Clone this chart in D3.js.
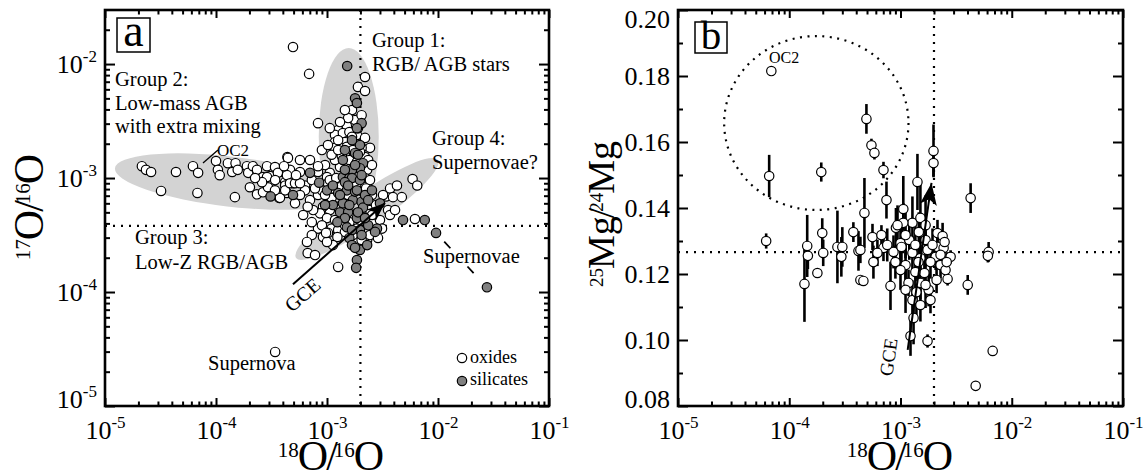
<!DOCTYPE html>
<html>
<head>
<meta charset="utf-8">
<script src="https://cdn.jsdelivr.net/npm/d3@7"></script>
<style>
  body { margin: 0; background: #fff; }
  text { font-family: "Liberation Serif", "Times New Roman", serif; fill: #000; }
</style>
</head>
<body>
<script>
'use strict'

// ---- data ----

// axis limits
const xDomain = [1e-5, 1e-1]
const yDomainA = [1e-5, 2.98e-2]
const yDomainB = [0.08, 0.20]

// solar reference values (dotted lines)
const solar18 = 2.0e-3
const solar17 = 3.8e-4
const solarMg = 0.1266

// panel a: [18O/16O, 17O/16O]
const oxides = [
  [2.15e-5,1.27e-3],[2.34e-5,1.18e-3],[2.6e-5,1.13e-3],[3.2e-5,7.7e-4],[4.36e-5,1.13e-3],
  [6.2e-5,1.27e-3],[6.9e-5,1.11e-3],[6.8e-5,7.4e-4],[1.0e-4,1.41e-3],[1.04e-4,1.18e-3],
  [1.08e-4,1.06e-3],[1.28e-4,1.35e-3],[1.4e-4,1.13e-3],[1.5e-4,1.35e-3],[1.57e-4,1.18e-3],
  [1.48e-4,6.8e-4],[1.9e-4,1.27e-3],[1.95e-4,1.11e-3],[2.15e-4,1.27e-3],[2.34e-4,1.18e-3],
  [2.34e-4,7.2e-4],[2.65e-4,7.5e-4],[2.65e-4,1.02e-3],[2.88e-4,1.27e-3],[3.07e-4,1.04e-3],
  [3.4e-4,1.25e-3],[3.7e-4,6.7e-4],[4.0e-4,1.13e-3],[4.4e-4,1.53e-3],[4.2e-4,9.2e-4],
  [4.2e-4,8.6e-4],[4.36e-4,7.4e-4],[2.88e-4,1.02e-3],[3.61e-4,1.11e-3],[2.94e-4,8.3e-4],
  [3.77e-4,6.7e-4],[3.4e-4,7.8e-4],[4.2e-4,7.8e-4],
  [4.94e-4,1.41e-2],[6.9e-4,8.2e-3],[2.2e-3,7.7e-3],[1.9e-3,6.3e-3],[2.2e-3,5.8e-3],
  [1.68e-3,3.95e-3],[8.3e-4,3.03e-3],[1.98e-3,3.35e-3],
  [1.51e-3,2.85e-3],[1.26e-3,2.64e-3],[1.18e-3,2.39e-3],[1.39e-3,2.48e-3],[1.59e-3,2.53e-3],
  [1.86e-3,2.39e-3],[2.2e-3,2.25e-3],[1.18e-3,2.07e-3],[1.45e-3,2.07e-3],[1.68e-3,2.03e-3],
  [2.44e-3,1.84e-3],[1.18e-3,1.84e-3],[1.36e-3,1.84e-3],[1.45e-3,1.66e-3],[2.2e-3,1.53e-3],
  [1.59e-3,1.44e-3],[1.86e-3,1.38e-3],[2.3e-3,1.18e-3],[1.31e-3,1.25e-3],[1.06e-3,1.11e-3],
  [9.6e-4,1.3e-3],[1.9e-3,1.02e-3],[2.2e-3,1.0e-3],[2.44e-3,9.6e-4],[1.18e-3,1.44e-3],
  [1.36e-3,1.56e-3],[2.05e-3,1.84e-3],[1.68e-3,2.3e-3],[1.9e-3,2.74e-3],
  [4.45e-4,1.5e-3],[4.64e-4,1.18e-3],[5.71e-4,1.13e-3],[1.0e-3,1.02e-3],[4.36e-4,1.06e-3],
  [4.94e-4,9.0e-4],[6.34e-4,8.6e-4],[4.64e-4,9.0e-4],[5.15e-4,9.0e-4],[1.02e-3,9.0e-4],
  [6.34e-4,7.8e-4],[7.03e-4,6.4e-4],[8.3e-4,7.1e-4],[1.1e-3,6.7e-4],[1.24e-3,5.6e-4],
  [1.06e-3,5.24e-4],[9.2e-4,5.6e-4],[8.65e-4,4.9e-4],[7.5e-4,5.24e-4],[6.7e-4,5.6e-4],
  [1.86e-3,4.9e-4],[2.44e-3,5.24e-4],[1.0e-3,4.45e-4],[1.18e-3,4.28e-4],[1.39e-3,4.28e-4],
  [1.68e-3,4.45e-4],[1.98e-3,4.28e-4],[2.3e-3,4.45e-4],[1.1e-3,3.6e-4],[1.26e-3,3.5e-4],
  [1.86e-3,3.6e-4],[2.6e-3,4.0e-4],[3.55e-3,5.24e-4],[3.0e-3,4.28e-4],[9.0e-4,7.8e-4],
  [1.13e-3,8.1e-4],[7.3e-4,9.6e-4],[8.3e-4,1.13e-3],[5.71e-4,9.0e-4],[1.36e-3,4.74e-4],
  [1.59e-3,4.1e-4],[8.3e-4,3.6e-4],[7.3e-4,3.16e-4],[1.45e-3,3.37e-4],[2.55e-3,4.74e-4],
  [3.4e-3,6.9e-4],[3.7e-3,8.1e-4],
  [4.27e-3,8.6e-4],[5.9e-3,9.8e-4],[6.5e-3,8.6e-4],[3.93e-3,6.8e-4],[4.72e-3,6.8e-4],[6.2e-3,4.37e-4],
  [6.6e-4,2.75e-4],[6.7e-4,2.2e-4],[7.8e-4,2.11e-4],[9.2e-4,3.04e-4],[1.02e-3,3.3e-4],
  [1.24e-3,3.04e-4],[2.3e-3,2.86e-4],[1.26e-3,1.66e-4],[1.13e-3,2.58e-4],[1.0e-3,2.75e-4],
  [3.41e-4,2.98e-5],
  [9.0e-4,1.76e-3],[1.02e-3,1.95e-3],[1.1e-3,1.6e-3],[1.26e-3,1.76e-3],[1.51e-3,1.88e-3],
  [1.71e-3,1.76e-3],[1.98e-3,1.7e-3],[2.35e-3,1.44e-3],[2.54e-3,1.3e-3],
  [1.06e-3,9.6e-4],[1.21e-3,1.0e-3],[1.36e-3,8.5e-4],[1.55e-3,7.1e-4],[1.83e-3,8.6e-4],
  [2.25e-3,8.1e-4],[2.54e-3,7.1e-4],[2.76e-3,5.8e-4],
  [9.6e-4,7.1e-4],[7.8e-4,8.1e-4],[5.71e-4,7.1e-4],[5.15e-4,6.0e-4],[6.1e-4,4.74e-4],
  [7.3e-4,4.1e-4],[9.0e-4,3.85e-4],[9.8e-4,3.3e-4],
  [1.45e-3,3.85e-4],[1.71e-3,3.16e-4],[2.05e-3,2.86e-4],[2.44e-3,3.16e-4],[2.88e-3,2.98e-4],
  [3.13e-3,3.6e-4],[3.69e-3,4.74e-4],[4.1e-3,5.24e-4],[3.2e-3,7.1e-4],
  [1.79e-3,3.23e-3],[1.55e-3,3.36e-3],[2.05e-3,3.56e-3],[1.31e-3,3.1e-3],[1.45e-3,3.95e-3],
  [1.26e-3,2.15e-3],[1.06e-3,2.74e-3],
  [7.03e-4,1.44e-3],[8.3e-4,1.27e-3],[5.71e-4,1.44e-3],[5.26e-4,1.06e-3],[4.1e-4,1.27e-3],
  [3.41e-4,9.6e-4],[2.6e-4,9.2e-4],[2.25e-4,1.0e-3],[2.02e-4,8.3e-4]
]

const silicates = [
  [3.1e-4,6.9e-4],[1.52e-3,9.6e-3],[1.79e-3,5.0e-3],[1.86e-3,4.55e-3],[2.05e-3,3.03e-3],
  [1.98e-3,1.95e-3],[1.79e-3,1.66e-3],[1.9e-3,1.6e-3],[1.39e-3,1.44e-3],[2.11e-3,1.35e-3],
  [1.98e-3,1.22e-3],[1.68e-3,1.18e-3],[1.39e-3,1.02e-3],[1.59e-3,1.0e-3],[7.03e-4,1.11e-3],
  [8.5e-4,9.1e-4],[4.94e-4,7.1e-4],[1.0e-3,7.8e-4],[1.26e-3,7.4e-4],[1.51e-3,7.8e-4],
  [1.68e-3,1.0e-3],[1.98e-3,9.6e-4],[1.45e-3,9.2e-4],[1.71e-3,6.4e-4],[2.05e-3,6.2e-4],
  [1.39e-3,6.0e-4],[1.31e-3,5.0e-4],[1.55e-3,5.0e-4],[2.11e-3,5.5e-4],[1.51e-3,3.7e-4],
  [2.82e-3,3.6e-4],[3.0e-3,6.0e-4],[4.84e-3,4.28e-4],[7.6e-3,4.28e-4],[1.59e-3,2.98e-4],
  [1.98e-3,2.34e-4],[1.86e-3,1.91e-4],[1.68e-3,2.58e-4],[1.98e-3,3.5e-4],[2.71e-3,3.37e-4],
  [9.6e-3,3.3e-4],[2.76e-2,1.1e-4],[1.13e-3,5.8e-4],[1.79e-3,7.6e-4],[2.2e-3,7.1e-4],
  [1.86e-3,4.45e-4],[2.35e-3,3.85e-4],
  [1.45e-3,1.18e-3],[1.79e-3,1.3e-3],[2.05e-3,1.06e-3],[1.55e-3,8.6e-4],[1.86e-3,7.8e-4],
  [1.31e-3,7.1e-4],[1.59e-3,5.8e-4],[1.9e-3,5.0e-4],[1.45e-3,4.45e-4],[2.2e-3,4.45e-4],
  [1.24e-3,4.1e-4],[1.68e-3,3.5e-4],[2.05e-3,3.16e-4],[1.79e-3,2.44e-4],[1.45e-3,1.76e-3],
  [1.68e-3,2.15e-3],[1.86e-3,2.74e-3],[1.13e-3,8.6e-4],[9.6e-4,5.8e-4],[2.35e-3,6.4e-4],
  [2.54e-3,7.8e-4],[2.3e-3,2.58e-4],[1.83e-3,1.63e-4]
]
// the two supernova silicates joined by the dashed line
const snPair = [silicates[40], silicates[41]]

// panel b: [18O/16O, 25Mg/24Mg, 1-sigma error]
const grainsMg = [
  [6.9e-5,0.1815,0],[6.6e-5,0.1497,0.0064],[1.94e-4,0.1509,0.0029],[6.2e-5,0.1300,0.0023],
  [1.45e-4,0.1285,0.0094],[1.37e-4,0.1170,0.0115],[1.47e-4,0.1255,0.004],[1.79e-4,0.1203,0],
  [1.98e-4,0.1324,0.0045],[2.02e-4,0.1264,0.004],[2.71e-4,0.1282,0.011],[3.0e-4,0.1282,0.006],
  [2.94e-4,0.1252,0.006],[3.77e-4,0.1327,0.003],[4.19e-4,0.1270,0.006],[4.36e-4,0.1182,0],
  [4.94e-4,0.1670,0.0045],[5.48e-4,0.1590,0.002],[5.83e-4,0.1567,0.002],[7.03e-4,0.1515,0.0025],
  [7.48e-4,0.1424,0.0056],[4.74e-4,0.1385,0.0106],[1.98e-3,0.1573,0.008],[1.98e-3,0.1536,0.004],
  [1.42e-3,0.1479,0.0085],[1.06e-3,0.1397,0.01],[1.28e-3,0.1355,0.008],[1.51e-3,0.1370,0.01],
  [1.06e-3,0.1355,0.006],[1.46e-3,0.1327,0.006],[4.27e-3,0.1430,0.0045],[2.15e-3,0.1324,0.004],
  [5.6e-4,0.1312,0.004],[6.74e-4,0.1318,0.003],[4.36e-4,0.1273,0.004],[5.71e-4,0.1236,0.005],
  [4.64e-4,0.1179,0],[8.13e-4,0.1164,0.0073],[8.65e-4,0.1267,0.005],[1.0e-3,0.1294,0.005],
  [1.2e-3,0.1303,0.006],[1.28e-3,0.1264,0.005],[1.51e-3,0.1248,0.004],[1.75e-3,0.1273,0.004],
  [2.07e-3,0.1252,0.004],[2.15e-3,0.1282,0.004],[2.44e-3,0.1279,0.003],[2.82e-3,0.1252,0.002],
  [1.18e-3,0.1173,0.004],[1.51e-3,0.1173,0.005],[1.64e-3,0.1203,0.005],[2.11e-3,0.1182,0.004],
  [2.65e-3,0.1185,0.002],[1.28e-3,0.1121,0.006],[1.51e-3,0.1106,0.005],[1.31e-3,0.1067,0.008],
  [1.23e-3,0.1012,0.006],[1.75e-3,0.0997,0.002],[4.02e-3,0.1167,0.003],[6.2e-3,0.1267,0.003],
  [6.1e-3,0.1255,0.002],[6.74e-3,0.0967,0],[4.74e-3,0.0861,0.001],[7.03e-4,0.1279,0.004],
  [9.1e-4,0.1340,0.006],[1.11e-3,0.1318,0.007],[1.36e-3,0.1288,0.006],[1.68e-3,0.1303,0.008],
  [1.86e-3,0.1236,0.005],[2.29e-3,0.1227,0.004],[1.11e-3,0.1227,0.006],[1.36e-3,0.1206,0.007],
  [1.79e-3,0.1152,0.005],[2.54e-3,0.1212,0.003],[2.39e-3,0.1315,0.004],[1.02e-3,0.1282,0.006],
  [9.0e-4,0.1236,0.005],[1.0e-3,0.1212,0.006],[1.45e-3,0.1236,0.006],[1.68e-3,0.1167,0.007],
  [1.94e-3,0.1288,0.005],[2.29e-3,0.1258,0.003],[2.6e-3,0.1236,0.003],[1.11e-3,0.1152,0.007],
  [1.39e-3,0.1145,0.008],[1.86e-3,0.1121,0.004],[9.4e-4,0.1348,0.006],[7.6e-4,0.1288,0.005],
  [6.2e-4,0.1264,0.004],[1.68e-3,0.1348,0.009],[2.49e-3,0.1297,0.003]
]

// group regions in panel a: ends of the long axis (data) + half width (px)
const groupEllipses = [
  {from: [1.57e-3, 3.9e-4], to: [1.57e-3, 1.38e-2], half: 30},   // group 1
  {from: [1.23e-5, 1.22e-3], to: [1.45e-3, 7.1e-4], half: 25},   // group 2
  {from: [5.26e-4, 1.99e-4], to: [1.0e-2, 1.44e-3], half: 17}    // groups 3/4
]
// dotted circle in panel b (data extents)
const mgCircle = {x: [2.6e-5, 1.18e-3], y: [0.1394, 0.1921]}

// galactic chemical evolution arrows
const gceA = [[4.94e-4, 1.17e-4], [3.33e-3, 6.04e-4]]
const gceB = [[1.16e-3, 0.0970], [1.90e-3, 0.1476]]

// ---- drawing ----

const svg = d3.select('body').append('svg')
  .attr('width', 1144)
  .attr('height', 474)

const xA = d3.scaleLog().domain(xDomain).range([105, 549])
const yA = d3.scaleLog().domain(yDomainA).range([406, 10])
const xB = d3.scaleLog().domain(xDomain).range([678, 1123])
const yB = d3.scaleLinear().domain(yDomainB).range([406, 10])

const defs = svg.append('defs')
function arrowMarker(id, len, wid) {
  defs.append('marker')
    .attr('id', id)
    .attr('markerUnits', 'userSpaceOnUse')
    .attr('viewBox', `0 0 ${len} ${wid}`)
    .attr('markerWidth', len).attr('markerHeight', wid)
    .attr('refX', len).attr('refY', wid / 2)
    .attr('orient', 'auto')
    .append('path')
    .attr('d', `M0,0L${len},${wid / 2}L0,${wid}L${len * 0.25},${wid / 2}Z`)
    .attr('fill', '#000')
}
arrowMarker('headA', 18, 14)
arrowMarker('headB', 22, 17)

const isPow10 = d => Math.abs(Math.log10(d) - Math.round(Math.log10(d))) < 1e-6

function supLabel(sel, base, exp) {
  sel.text(base)
  sel.append('tspan').attr('dy', -11).attr('font-size', 17).text(exp)
}

function drawFrame(x, y, yIsLog) {
  const [x0, x1] = x.range()
  const [y0, y1] = y.range()
  const xt = x.ticks()
  const xMajor = xt.filter(isPow10), xMinor = xt.filter(d => !isPow10(d))
  let yMajor, yMinor
  if (yIsLog) {
    const yt = y.ticks()
    yMajor = yt.filter(isPow10); yMinor = yt.filter(d => !isPow10(d))
  } else {
    yMajor = y.ticks(6)
    yMinor = y.ticks(12).filter(d => Math.round(d * 100) % 2 !== 0)
  }
  const g = svg.append('g')
  const clean = s => {
    s.select('.domain').remove()
    s.attr('font-family', null).attr('font-size', null)
    s.selectAll('.tick line').attr('stroke-width', 2)
  }
  // bottom / top
  g.append('g').attr('transform', `translate(0,${y0})`)
    .call(d3.axisBottom(x).tickValues(xMinor).tickSize(-4.5).tickSizeOuter(0).tickFormat('')).call(clean)
  g.append('g').attr('transform', `translate(0,${y1})`)
    .call(d3.axisTop(x).tickValues(xMinor).tickSize(-4.5).tickSizeOuter(0).tickFormat('')).call(clean)
  g.append('g').attr('transform', `translate(0,${y1})`)
    .call(d3.axisTop(x).tickValues(xMajor).tickSize(-8).tickSizeOuter(0).tickFormat('')).call(clean)
  g.append('g').attr('transform', `translate(0,${y0})`)
    .call(d3.axisBottom(x).tickValues(xMajor).tickSize(-8).tickSizeOuter(0).tickFormat(() => '10'))
    .call(clean)
    .selectAll('.tick text')
    .attr('y', 33).attr('dy', null).attr('font-size', 26)
    .each(function (d) { supLabel(d3.select(this), '10', String(Math.round(Math.log10(d)))) })
  // left / right
  g.append('g').attr('transform', `translate(${x0},0)`)
    .call(d3.axisLeft(y).tickValues(yMinor).tickSize(-5).tickSizeOuter(0).tickFormat('')).call(clean)
  g.append('g').attr('transform', `translate(${x1},0)`)
    .call(d3.axisRight(y).tickValues(yMinor).tickSize(-5).tickSizeOuter(0).tickFormat('')).call(clean)
  g.append('g').attr('transform', `translate(${x1},0)`)
    .call(d3.axisRight(y).tickValues(yMajor).tickSize(-10).tickSizeOuter(0).tickFormat('')).call(clean)
  const left = g.append('g').attr('transform', `translate(${x0},0)`)
    .call(d3.axisLeft(y).tickValues(yMajor).tickSize(-10).tickSizeOuter(0)
      .tickFormat(yIsLog ? () => '10' : d3.format('.2f')))
    .call(clean)
  // labels at the ends are pulled inside the frame
  left.selectAll('.tick text')
    .attr('x', -8).attr('font-size', 26)
    .attr('dy', d => {
      const p = y(d)
      return Math.min(Math.max(p + 8.5, y1 + 17), y0 + 1) - p
    })
  if (yIsLog) {
    left.selectAll('.tick text')
      .each(function (d) { supLabel(d3.select(this), '10', String(Math.round(Math.log10(d)))) })
  }
  g.append('rect')
    .attr('x', x0).attr('y', y1).attr('width', x1 - x0).attr('height', y0 - y1)
    .attr('fill', 'none').attr('stroke', '#000').attr('stroke-width', 2.6)
}

function dotted(x1, y1, x2, y2) {
  svg.append('line')
    .attr('x1', x1).attr('y1', y1).attr('x2', x2).attr('y2', y2)
    .attr('stroke', '#000').attr('stroke-width', 2.2)
    .attr('stroke-dasharray', '2,6')
}

function textLines(x, y, lines, size, step) {
  const t = svg.append('text').attr('x', x).attr('y', y).attr('font-size', size)
  lines.forEach((l, i) => t.append('tspan').attr('x', x).attr('dy', i ? step : 0).text(l))
}

function ratioTitle(x, y, rotate, size, a, el1, b, el2) {
  const s = size / 2
  const t = svg.append('text')
    .attr('transform', `translate(${x},${y})` + (rotate ? ' rotate(-90)' : ''))
    .attr('text-anchor', 'middle')
  t.append('tspan').attr('font-size', s).attr('dy', -s * 0.6).text(a)
  t.append('tspan').attr('font-size', size).attr('dy', s * 0.6).attr('dx', -1).text(el1)
  t.append('tspan').attr('font-size', size).attr('dx', -2).text('/')
  t.append('tspan').attr('font-size', s).attr('dy', -s * 0.6).attr('dx', -4).text(b)
  t.append('tspan').attr('font-size', size).attr('dy', s * 0.6).attr('dx', -1).text(el2)
}

// ===== panel a =====
groupEllipses.forEach(e => {
  const p1 = [xA(e.from[0]), yA(e.from[1])]
  const p2 = [xA(e.to[0]), yA(e.to[1])]
  const cx = (p1[0] + p2[0]) / 2, cy = (p1[1] + p2[1]) / 2
  const len = Math.hypot(p2[0] - p1[0], p2[1] - p1[1]) / 2
  const ang = Math.atan2(p2[1] - p1[1], p2[0] - p1[0]) * 180 / Math.PI
  svg.append('ellipse')
    .attr('cx', 0).attr('cy', 0).attr('rx', len).attr('ry', e.half)
    .attr('transform', `translate(${cx},${cy}) rotate(${ang})`)
    .attr('fill', '#d3d3d3')
})

dotted(xA(solar18), yA.range()[1], xA(solar18), yA.range()[0])
dotted(xA.range()[0], yA(solar17), xA.range()[1], yA(solar17))

// supernova pair connector
svg.append('line')
  .attr('x1', xA(snPair[0][0])).attr('y1', yA(snPair[0][1]))
  .attr('x2', xA(snPair[1][0])).attr('y2', yA(snPair[1][1]))
  .attr('stroke', '#000').attr('stroke-width', 1.8)
  .attr('stroke-dasharray', '0,12,9,25,9,100')

const R = 4.7
svg.append('g').selectAll('circle')
  .data(oxides).enter().append('circle')
  .attr('cx', d => xA(d[0])).attr('cy', d => yA(d[1])).attr('r', R)
  .attr('fill', '#fff').attr('stroke', '#000').attr('stroke-width', 1.2)
svg.append('g').selectAll('circle')
  .data(silicates).enter().append('circle')
  .attr('cx', d => xA(d[0])).attr('cy', d => yA(d[1])).attr('r', R)
  .attr('fill', '#808080').attr('stroke', '#000').attr('stroke-width', 1.2)

svg.append('line')
  .attr('x1', xA(gceA[0][0])).attr('y1', yA(gceA[0][1]))
  .attr('x2', xA(gceA[1][0])).attr('y2', yA(gceA[1][1]))
  .attr('stroke', '#000').attr('stroke-width', 2)
  .attr('marker-end', 'url(#headA)')
svg.append('text')
  .attr('transform', 'translate(307,300) rotate(-41)')
  .attr('text-anchor', 'middle').attr('font-size', 20).text('GCE')

// OC2 pointer
svg.append('line').attr('x1', 203).attr('y1', 163).attr('x2', 218).attr('y2', 150)
  .attr('stroke', '#000').attr('stroke-width', 1.3)
svg.append('text').attr('x', 217).attr('y', 156).attr('font-size', 17).text('OC2')

textLines(115, 86, ['Group 2:', 'Low-mass AGB', 'with extra mixing'], 20.5, 23.5)
textLines(372, 47, ['Group 1:', 'RGB/ AGB stars'], 20.5, 23.5)
textLines(432, 145, ['Group 4:', 'Supernovae?'], 20.5, 23.5)
textLines(135, 244, ['Group 3:', 'Low-Z RGB/AGB'], 20.5, 25)
svg.append('text').attr('x', 423).attr('y', 263).attr('font-size', 20.5).text('Supernovae')
svg.append('text').attr('x', 208).attr('y', 370).attr('font-size', 20.5).text('Supernova')

// legend
svg.append('circle').attr('cx', 462).attr('cy', 358).attr('r', R)
  .attr('fill', '#fff').attr('stroke', '#000').attr('stroke-width', 1.2)
svg.append('circle').attr('cx', 462).attr('cy', 381).attr('r', R)
  .attr('fill', '#808080').attr('stroke', '#000').attr('stroke-width', 1.2)
svg.append('text').attr('x', 470).attr('y', 363).attr('font-size', 18).text('oxides')
svg.append('text').attr('x', 470).attr('y', 385).attr('font-size', 18).text('silicates')

drawFrame(xA, yA, true)

svg.append('rect').attr('x', 117).attr('y', 18).attr('width', 33).attr('height', 34)
  .attr('fill', '#fff').attr('stroke', '#000').attr('stroke-width', 1.5)
svg.append('text').attr('x', 133.5).attr('y', 46).attr('text-anchor', 'middle')
  .attr('font-size', 46).text('a')

ratioTitle(331, 470, false, 42, '18', 'O', '16', 'O')
ratioTitle(43, 207, true, 42, '17', 'O', '16', 'O')

// ===== panel b =====
const cx0 = xB(mgCircle.x[0]), cx1 = xB(mgCircle.x[1])
const cy0 = yB(mgCircle.y[0]), cy1 = yB(mgCircle.y[1])
svg.append('ellipse')
  .attr('cx', (cx0 + cx1) / 2).attr('cy', (cy0 + cy1) / 2)
  .attr('rx', (cx1 - cx0) / 2).attr('ry', (cy0 - cy1) / 2)
  .attr('fill', 'none').attr('stroke', '#000').attr('stroke-width', 2.2)
  .attr('stroke-dasharray', '2,5.5')

dotted(xB(solar18), yB.range()[1], xB(solar18), yB.range()[0])
dotted(xB.range()[0], yB(solarMg), xB.range()[1], yB(solarMg))

svg.append('g').selectAll('line')
  .data(grainsMg.filter(d => d[2] > 0)).enter().append('line')
  .attr('x1', d => xB(d[0])).attr('x2', d => xB(d[0]))
  .attr('y1', d => yB(d[1] - d[2])).attr('y2', d => yB(d[1] + d[2]))
  .attr('stroke', '#000').attr('stroke-width', 2.6)
svg.append('g').selectAll('circle')
  .data(grainsMg).enter().append('circle')
  .attr('cx', d => xB(d[0])).attr('cy', d => yB(d[1])).attr('r', R)
  .attr('fill', '#fff').attr('stroke', '#000').attr('stroke-width', 1.2)

svg.append('line')
  .attr('x1', xB(gceB[0][0])).attr('y1', yB(gceB[0][1]))
  .attr('x2', xB(gceB[1][0])).attr('y2', yB(gceB[1][1]))
  .attr('stroke', '#000').attr('stroke-width', 2)
  .attr('marker-end', 'url(#headB)')
svg.append('text')
  .attr('transform', 'translate(895,358) rotate(-82)')
  .attr('text-anchor', 'middle').attr('font-size', 19).text('GCE')

svg.append('text').attr('x', 769).attr('y', 63).attr('font-size', 16).text('OC2')

drawFrame(xB, yB, false)

svg.append('rect').attr('x', 695).attr('y', 22).attr('width', 32).attr('height', 31)
  .attr('fill', '#fff').attr('stroke', '#000').attr('stroke-width', 1.5)
svg.append('text').attr('x', 711).attr('y', 49).attr('text-anchor', 'middle')
  .attr('font-size', 41).text('b')

ratioTitle(900, 470, false, 42, '18', 'O', '16', 'O')
ratioTitle(614, 214, true, 38, '25', 'Mg', '24', 'Mg')
</script>
</body>
</html>
